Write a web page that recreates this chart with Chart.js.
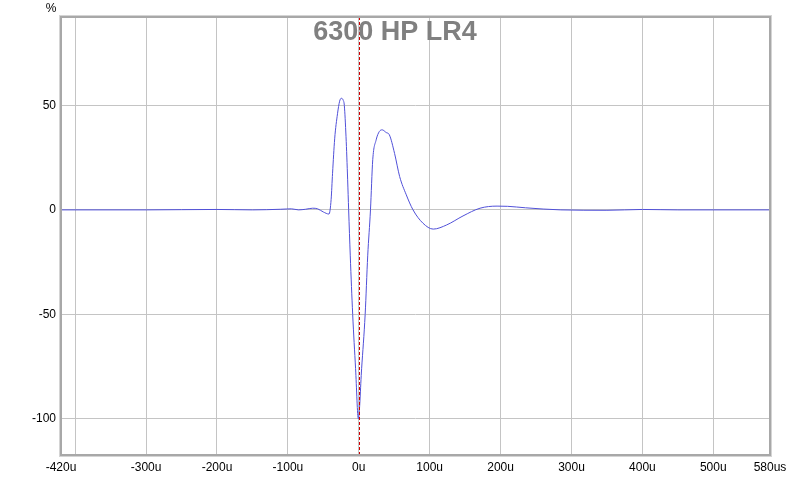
<!DOCTYPE html>
<html>
<head>
<meta charset="utf-8">
<script src="https://cdn.jsdelivr.net/npm/chart.js@4/dist/chart.umd.min.js"></script>
<style>
  body { margin: 0; background: #fff; }
  canvas { display: block; }
</style>
</head>
<body>
<canvas id="impulseChart" width="800" height="480"></canvas>
<script>
// ===== DATA =====
const timeUs = [-420, -300, -200, -150, -110, -95, -85, -75, -65, -58, -50, -42, -39, -37, -34, -30, -27, -24.7, -22, -20.4, -18, -15.7, -14.3, -12, -8.6, -4.5, -0.6, 4, 9, 12.6, 16.5, 19.7, 24.5, 29, 33, 38.7, 43, 50.5, 57.6, 67, 76.5, 90.6, 105, 124, 147, 171, 195, 210, 235, 260, 285, 350, 400, 450, 580];
const response = [0, 0, 0.2, 0, 0.3, 0.5, 0, 0.3, 0.8, 0.5, -1, -2, 5, 17.5, 34, 46, 52, 53.4, 52.5, 50, 35, 14.4, 0, -22, -50, -76, -100, -76, -50, -22, 0, 24, 33.5, 37.5, 38.3, 37, 36, 27, 16, 7.2, 0, -6.4, -9.2, -7.2, -2.9, 0.8, 1.8, 1.7, 1.0, 0.4, 0, -0.2, 0.2, 0, 0];
const xTicks = [-420, -400, -300, -200, -100, 0, 100, 200, 300, 400, 500, 580];
const yTicks = [-100, -50, 0, 50];
const markerX = [0];

const xMin = -420, xMax = 580;
const yMin = -117.3, yMax = 92.3;

const points = timeUs.map((t, i) => ({ x: t, y: response[i] }));

const chartFont = { family: 'Liberation Sans, Arial, sans-serif', size: 12 };

const framePlugin = {
    id: 'frame',
    afterDraw(chart) {
        const { ctx, chartArea: a, scales } = chart;
        ctx.save();
        // dashed marker line
        ctx.strokeStyle = '#d00000';
        ctx.lineWidth = 1;
        ctx.setLineDash([3, 2]);
        markerX.forEach(v => {
            const px = Math.round(scales.x.getPixelForValue(v)) + 0.5;
            ctx.beginPath();
            ctx.moveTo(px, a.top);
            ctx.lineTo(px, a.bottom);
            ctx.stroke();
        });
        ctx.setLineDash([]);
        // frame with soft shadow
        ctx.strokeStyle = '#d4d4d4';
        ctx.lineWidth = 1;
        ctx.strokeRect(a.left - 1.5, a.top - 1.5, a.right - a.left + 3, a.bottom - a.top + 3);
        ctx.strokeStyle = '#a8a8a8';
        ctx.lineWidth = 2;
        ctx.strokeRect(a.left, a.top, a.right - a.left, a.bottom - a.top);
        // title
        ctx.fillStyle = '#808080';
        ctx.font = 'bold 27px "Liberation Sans", Arial, sans-serif';
        ctx.textAlign = 'center';
        ctx.textBaseline = 'middle';
        ctx.fillText('6300 HP LR4', 395, 33);
        // unit label
        ctx.fillStyle = '#000';
        ctx.font = '12px "Liberation Sans", Arial, sans-serif';
        ctx.fillText('%', 51, 9);
        ctx.restore();
    }
};

new Chart(document.getElementById('impulseChart'), {
    type: 'line',
    data: {
        datasets: [{
            data: points,
            borderColor: '#5050d8',
            borderWidth: 1,
            pointRadius: 0,
            cubicInterpolationMode: 'monotone',
            fill: false
        }]
    },
    options: {
        responsive: false,
        animation: false,
        layout: { padding: { top: 17, right: 30, left: 0, bottom: 0 } },
        plugins: { legend: { display: false }, tooltip: { enabled: false } },
        scales: {
            x: {
                type: 'linear',
                min: xMin,
                max: xMax,
                afterBuildTicks: s => { s.ticks = xTicks.map(v => ({ value: v })); },
                afterFit: s => { s.height = 25; },
                ticks: {
                    autoSkip: false,
                    maxRotation: 0,
                    padding: 5,
                    color: '#000',
                    font: chartFont,
                    callback: v => v === -400 ? '' : (v === 580 ? v + 'us' : v + 'u')
                },
                grid: {
                    drawTicks: false,
                    color: c => (c.tick && (c.tick.value === -420 || c.tick.value === 580)) ? 'rgba(0,0,0,0)' : '#c4c4c4'
                },
                border: { display: false }
            },
            y: {
                min: yMin,
                max: yMax,
                afterBuildTicks: s => { s.ticks = yTicks.map(v => ({ value: v })); },
                afterFit: s => { s.width = 61; },
                ticks: { padding: 5, color: '#000', font: chartFont },
                grid: { drawTicks: false, color: '#c4c4c4' },
                border: { display: false }
            }
        }
    },
    plugins: [framePlugin]
});
</script>
</body>
</html>
